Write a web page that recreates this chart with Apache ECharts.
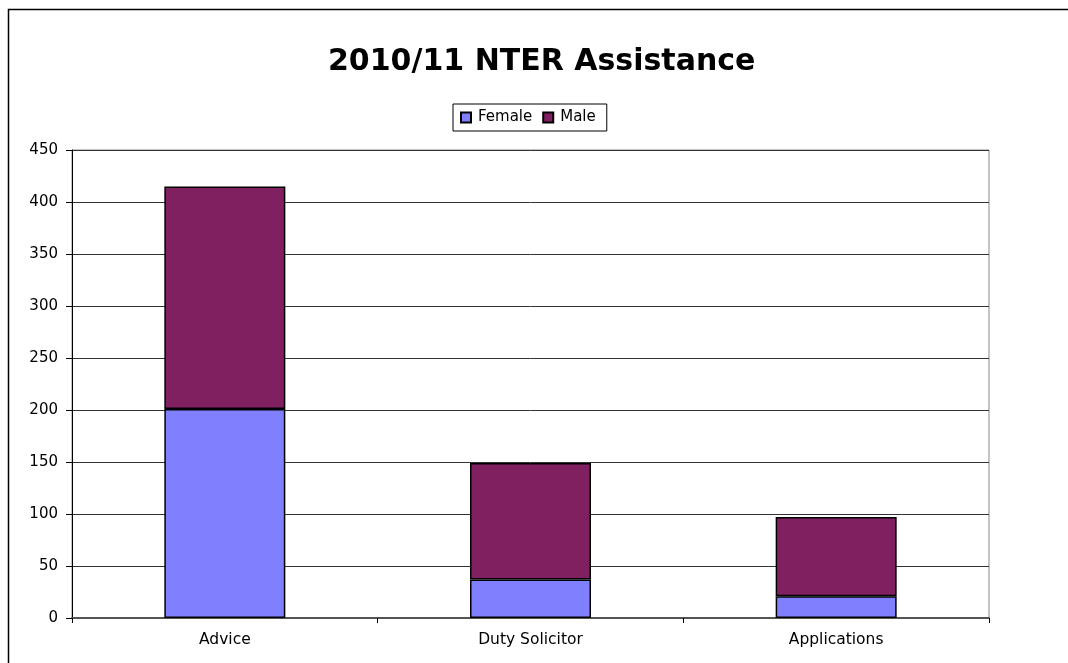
<!DOCTYPE html>
<html><head><meta charset="utf-8">
<script src="https://cdn.jsdelivr.net/npm/echarts@6/dist/echarts.min.js"></script>
<style>html,body{margin:0;padding:0;background:#fff}#c{width:1068px;height:663px}</style>
</head><body><div id="c"></div>
<script>
const categories = ['Advice', 'Duty Solicitor', 'Applications'];
const female = [201, 37, 21];
const male = [214, 112, 76];
const yTicks = [0, 50, 100, 150, 200, 250, 300, 350, 400, 450];

const chart = echarts.init(document.getElementById('c'), null, {renderer: 'canvas'});
const font = 'DejaVu Sans, Arial, sans-serif';
chart.setOption({
  animation: false,
  backgroundColor: '#fff',
  title: {
    text: '2010/11 NTER Assistance', left: 323, top: 42,
    textStyle: {fontFamily: font, fontSize: 30, fontWeight: 'bold', color: '#000'}
  },
  legend: {
    top: 104, left: 453, itemWidth: 10, itemHeight: 10, itemGap: 10,
    padding: [6, 11, 6, 7], borderColor: '#000', borderWidth: 1,
    textStyle: {fontFamily: font, fontSize: 15, color: '#000', padding: [0, 0, 0, 2]},
    data: [{name: 'Female', icon: 'rect'}, {name: 'Male', icon: 'rect'}]
  },
  grid: {left: 72, right: 79, top: 150, bottom: 45, show: true, borderColor: '#888', borderWidth: 1, backgroundColor: 'transparent'},
  xAxis: {
    type: 'category', data: categories,
    axisLine: {lineStyle: {color: '#555', width: 2}},
    axisTick: {show: true, length: 5, lineStyle: {color: '#000'}},
    axisLabel: {fontFamily: font, fontSize: 15.5, color: '#000', margin: 14}
  },
  yAxis: {
    type: 'value', min: yTicks[0], max: yTicks[yTicks.length - 1], interval: 50,
    axisLine: {show: true, lineStyle: {color: '#000', width: 1}},
    axisTick: {show: true, length: 6, lineStyle: {color: '#000'}},
    axisLabel: {fontFamily: font, fontSize: 15, color: '#000', margin: 14},
    splitLine: {lineStyle: {color: '#333', width: 1}}
  },
  series: [
    {name: 'Female', type: 'bar', stack: 'a', data: female, barWidth: 121,
     itemStyle: {color: '#8080FF', borderColor: '#000', borderWidth: 1.5}},
    {name: 'Male', type: 'bar', stack: 'a', data: male, barWidth: 121,
     itemStyle: {color: '#802060', borderColor: '#000', borderWidth: 1.5}}
  ],
  graphic: [{
    type: 'rect', left: 6, top: 7, z: 100, silent: true,
    shape: {width: 1100, height: 700},
    style: {fill: 'none', stroke: '#000', lineWidth: 1.5}
  }]
});
</script></body></html>
